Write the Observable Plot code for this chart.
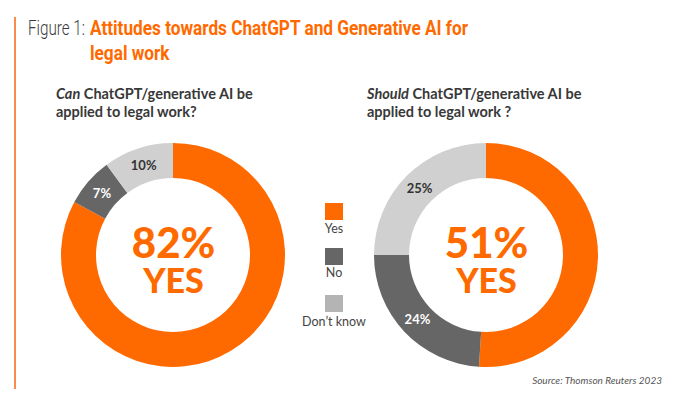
<!DOCTYPE html>
<html><head><meta charset="utf-8">
<script src="https://cdn.jsdelivr.net/npm/d3@7"></script>
<script src="https://cdn.jsdelivr.net/npm/@observablehq/plot@0.6"></script>
<style>
body{margin:0;background:#fff;}
#wrap{position:relative;width:684px;height:399px;overflow:hidden;background:#fff;font-family:Lato,"Open Sans",sans-serif;}
.bar{position:absolute;left:14px;top:17px;width:2px;height:372px;background:#fb8a4e;}
.fig{position:absolute;left:28px;top:16px;font-family:Roboto,sans-serif;font-size:21px;line-height:25px;color:#3a3a3a;font-weight:300;white-space:nowrap;transform-origin:0 0;}
.ttl{position:absolute;left:90px;top:16px;font-family:Roboto,sans-serif;font-size:20px;line-height:25px;color:#ff6a00;font-weight:bold;white-space:nowrap;transform-origin:0 0;}
.sub{position:absolute;top:85.4px;font-size:14.5px;line-height:18px;font-weight:bold;color:#383838;white-space:nowrap;}
.leg{position:absolute;left:284px;width:100px;text-align:center;font-size:12.5px;color:#444;}
.sw{position:absolute;left:325px;width:18px;height:17px;}
.src{position:absolute;right:22px;top:374px;font-size:10px;font-style:italic;color:#555;white-space:nowrap;}
#chart{position:absolute;left:0;top:135px;}
</style></head>
<body><div id="wrap">
<div class="bar"></div>
<div class="fig" id="fig">Figure 1:</div>
<div class="ttl" id="ttl">Attitudes towards ChatGPT and Generative AI for<br>legal work</div>
<div class="sub" style="left:56px"><i>Can</i> ChatGPT/generative AI be<br>applied to legal work?</div>
<div class="sub" style="left:367px"><i>Should</i> ChatGPT/generative AI be<br>applied to legal work ?</div>
<div id="chart"></div>
<div id="legend"></div>
<div class="src">Source: Thomson Reuters 2023</div>
</div>
<script>
const questions = ["Can", "Should"];
const answers = ["Yes", "No", "Don’t know"];
const canValues = [82, 7, 10];
const shouldValues = [51, 24, 25];
const colors = ["#ff6a00", "#666666", "#d0d0d0"];
const legendColors = ["#ff6a00", "#666666", "#b4b4b4"];
const labelColors = ["#ff6a00", "#ffffff", "#333333"];

const table = [];
questions.forEach((q, qi) => {
  const vals = qi === 0 ? canValues : shouldValues;
  answers.forEach((a, i) => table.push({question: q, answer: a, value: vals[i], i}));
});
const yesRows = table.filter(d => d.answer === "Yes");

function donuts(index, scales, values, dimensions) {
  const g = d3.create("svg:g");
  const cy = dimensions.height / 2;
  const pie = d3.pie().sort(null).value(d => d.value);
  const arc = d3.arc().innerRadius(77).outerRadius(112);
  const lab = d3.arc().innerRadius(94).outerRadius(94);
  for (const q of questions) {
    const arcs = pie(table.filter(d => d.question === q));
    const gg = g.append("g").attr("transform", `translate(${scales.x(q)},${cy})`);
    gg.selectAll("path").data(arcs).join("path")
      .attr("d", arc).attr("fill", d => colors[d.data.i]);
    gg.selectAll("text").data(arcs.filter(d => d.data.i > 0)).join("text")
      .attr("transform", d => `translate(${lab.centroid(d)})`)
      .attr("text-anchor", "middle").attr("dy", "0.35em")
      .attr("font-family", "Lato, sans-serif").attr("font-weight", "bold").attr("font-size", 13)
      .attr("fill", d => labelColors[d.data.i])
      .text(d => d.data.value + "%");
  }
  return g.node();
}

const plot = Plot.plot({
  width: 684, height: 240, margin: 0,
  x: {type: "point", domain: questions, range: [173, 486], padding: 0, axis: null},
  marks: [
    donuts,
    Plot.text(yesRows, {x: "question", text: d => d.value + "%", frameAnchor: "middle", lineAnchor: "bottom", dy: 2,
      fill: "#ff6a00", fontSize: 42, fontWeight: 900, fontFamily: "Lato, sans-serif"}),
    Plot.text(yesRows, {x: "question", text: () => "YES", frameAnchor: "middle", lineAnchor: "bottom", dy: 37,
      fill: "#ff6a00", fontSize: 34, fontWeight: 900, fontFamily: "Lato, sans-serif"})
  ]
});
document.getElementById("chart").appendChild(plot);

const legTops = [203, 248, 295];
const labTops = [221, 265, 314];
const leg = document.getElementById("legend");
answers.forEach((a, i) => {
  const s = document.createElement("div");
  s.className = "sw"; s.style.top = legTops[i] + "px"; s.style.background = legendColors[i];
  leg.appendChild(s);
  const t = document.createElement("div");
  t.className = "leg"; t.style.top = labTops[i] + "px"; t.textContent = a;
  leg.appendChild(t);
});

// fit the condensed title widths of the reference
function fit(id, target) {
  const el = document.getElementById(id);
  const w = el.getBoundingClientRect().width;
  el.style.transform = `scaleX(${target / w})`;
}
fit("fig", 57);
fit("ttl", 378);
</script>
</body></html>
